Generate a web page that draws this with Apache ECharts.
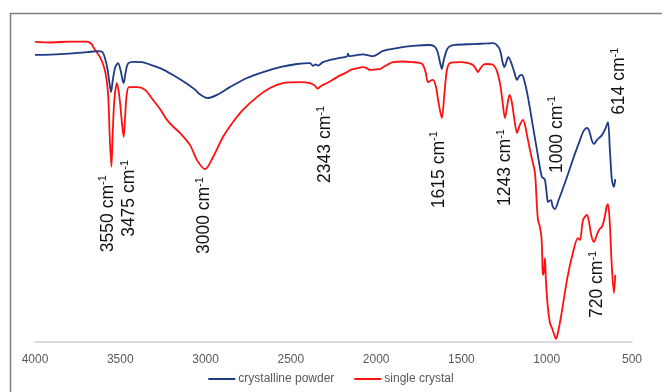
<!DOCTYPE html>
<html>
<head>
<meta charset="utf-8">
<script src="https://cdn.jsdelivr.net/npm/echarts@6/dist/echarts.min.js"></script>
<style>
  html, body { margin: 0; padding: 0; background: #ffffff; }
  #chart { width: 662px; height: 392px; }
</style>
</head>
<body>
<div id="chart"></div>
<script>
// FTIR transmittance spectra (wavenumber in cm-1, transmittance in arbitrary %)
const powderWn = [4000, 3850, 3695, 3630, 3605, 3590, 3575, 3562, 3554, 3545, 3530, 3513, 3498, 3486, 3480, 3470, 3455, 3420, 3373, 3330, 3267, 3191, 3109, 3060, 3033, 2986, 2933, 2857, 2757, 2663, 2564, 2464, 2388, 2370, 2355, 2341, 2312, 2271, 2220, 2171, 2165, 2158, 2120, 2077, 2040, 2018, 1990, 1960, 1878, 1784, 1684, 1655, 1640, 1625, 1615, 1605, 1590, 1575, 1540, 1432, 1350, 1315, 1295, 1274, 1258, 1248, 1238, 1225, 1210, 1190, 1174, 1160, 1145, 1130, 1110, 1085, 1057, 1040, 1028, 1018, 1010, 1000, 993, 985, 975, 965, 952, 930, 881, 840, 805, 785, 764, 750, 735, 723, 705, 676, 655, 641, 630, 618, 606, 598];
const powderT = [92.0, 92.3, 92.9, 93.2, 93.0, 91.0, 87.5, 82.5, 80.1, 83.5, 88.0, 89.4, 87.0, 83.8, 83.0, 86.0, 89.2, 89.8, 89.7, 89.0, 87.8, 85.6, 82.8, 80.8, 79.4, 78.2, 79.2, 81.7, 84.6, 86.5, 88.1, 89.1, 89.4, 88.5, 89.0, 88.6, 89.7, 90.4, 91.0, 91.5, 92.4, 91.6, 91.9, 92.2, 91.8, 91.6, 92.3, 93.3, 94.2, 94.9, 95.2, 94.6, 93.0, 89.5, 87.5, 90.0, 93.0, 94.5, 95.2, 95.5, 95.7, 95.8, 95.3, 93.6, 89.5, 88.1, 89.5, 91.3, 89.8, 86.5, 84.0, 85.3, 85.6, 83.5, 78.5, 70.5, 61.5, 56.0, 52.9, 52.5, 51.9, 47.5, 44.9, 45.2, 45.5, 43.5, 42.6, 45.5, 52.9, 59.5, 64.7, 67.5, 68.6, 67.5, 64.5, 63.5, 64.8, 66.3, 68.5, 70.5, 62.0, 52.0, 49.7, 52.2];

const crystalWn = [4000, 3900, 3800, 3700, 3670, 3655, 3635, 3619, 3595, 3580, 3570, 3562, 3552, 3545, 3535, 3520, 3510, 3500, 3490, 3480, 3472, 3462, 3449, 3396, 3355, 3308, 3265, 3226, 3190, 3150, 3091, 3050, 3003, 2956, 2898, 2839, 2781, 2699, 2622, 2546, 2446, 2388, 2360, 2343, 2325, 2288, 2229, 2171, 2150, 2120, 2077, 2055, 2036, 2000, 1977, 1955, 1936, 1901, 1840, 1784, 1740, 1725, 1710, 1696, 1680, 1667, 1650, 1635, 1615, 1600, 1585, 1567, 1508, 1465, 1432, 1415, 1403, 1390, 1370, 1350, 1320, 1303, 1290, 1274, 1260, 1245, 1232, 1218, 1205, 1190, 1174, 1158, 1139, 1125, 1110, 1090, 1069, 1058, 1051, 1040, 1030, 1024, 1020, 1014, 1010, 1005, 993, 981, 969, 955, 946, 935, 915, 881, 850, 817, 805, 787, 764, 752, 738, 723, 705, 690, 676, 660, 648, 641, 630, 620, 606, 598];
const crystalT = [96.2, 96.0, 96.3, 96.3, 95.6, 94.2, 92.6, 91.3, 88.1, 84.0, 78.0, 66.0, 56.2, 66.0, 77.5, 83.0, 80.5, 76.0, 70.0, 65.7, 72.0, 79.5, 81.7, 81.7, 80.8, 77.6, 74.5, 71.2, 69.0, 67.0, 63.1, 58.3, 55.4, 59.3, 65.7, 70.5, 74.4, 78.5, 81.4, 83.0, 83.3, 83.0, 82.2, 81.2, 82.0, 83.0, 84.9, 86.5, 87.2, 87.6, 88.1, 87.8, 87.2, 87.4, 87.5, 88.2, 88.8, 89.7, 89.9, 89.7, 89.4, 88.8, 86.5, 83.3, 83.8, 84.0, 82.0, 77.0, 71.8, 79.5, 87.2, 89.4, 89.7, 89.5, 88.8, 87.5, 86.5, 87.6, 88.9, 89.1, 89.0, 88.1, 86.5, 83.0, 77.5, 71.8, 75.5, 79.2, 77.0, 71.5, 67.0, 69.5, 71.2, 69.0, 64.7, 59.5, 54.2, 44.0, 39.1, 36.9, 33.0, 23.0, 21.5, 24.0, 26.9, 20.0, 10.9, 6.1, 4.5, 2.2, 1.0, 2.8, 8.5, 19.9, 27.8, 33.3, 32.7, 39.1, 40.7, 38.5, 34.0, 32.1, 34.5, 36.2, 36.9, 40.0, 43.5, 44.2, 38.0, 26.0, 15.7, 21.5];

const seriesNames = ['crystalline powder', 'single crystal'];

// band assignments written on the plot
const bandLabels = ['3550', '3475', '3000', '2343', '1615', '1243', '1000', '614', '720'];
// label layout: horizontal nudge in px, and height of the label's start in axis units
const bandLabelDx = [-4, 4.5, -1.5, 7.5, -3, 0, 10, 6.5, 2.5];
const bandLabelBase = [28.8, 33.7, 28.2, 51.0, 42.9, 43.6, 54.2, 72.8, 7.7];

const pairs = (xs, ys) => xs.map((x, i) => [x, ys[i]]);

const chart = echarts.init(document.getElementById('chart'), null, { renderer: 'canvas' });

const baseFont = '"Liberation Sans", "DejaVu Sans", sans-serif';

chart.setOption({
  animation: false,
  backgroundColor: '#ffffff',
  grid: { left: 35, right: 30, top: 30, bottom: 50, containLabel: false },
  xAxis: {
    type: 'value',
    min: 500,
    max: 4000,
    interval: 500,
    inverse: true,
    axisLine: { show: true, lineStyle: { color: '#d0d0d0', width: 1.5 } },
    axisTick: { show: false },
    splitLine: { show: false },
    axisLabel: {
      color: '#595959', fontSize: 12, fontFamily: baseFont, margin: 12,
      formatter: (v) => String(v)
    }
  },
  yAxis: {
    type: 'value',
    min: 0,
    max: 100,
    show: false,
    splitLine: { show: false }
  },
  legend: {
    bottom: 2,
    left: 'center',
    icon: 'rect',
    itemWidth: 27,
    itemHeight: 2,
    itemGap: 20,
    textStyle: { color: '#595959', fontSize: 12, fontFamily: baseFont, padding: [0, 0, 0, -2] },
    data: seriesNames
  },
  series: [
    {
      name: seriesNames[0],
      type: 'line',
      data: pairs(powderWn, powderT),
      showSymbol: false,
      symbol: 'none',
      smooth: 0.3,
      lineStyle: { color: '#1f3a84', width: 1.8 },
      itemStyle: { color: '#1f3a84' },
      z: 3
    },
    {
      name: seriesNames[1],
      type: 'line',
      data: pairs(crystalWn, crystalT),
      showSymbol: false,
      symbol: 'none',
      smooth: 0.3,
      lineStyle: { color: '#ff1010', width: 1.8 },
      itemStyle: { color: '#ff1010' },
      z: 2
    }
  ]
});

// outer frame plus rotated band labels placed through the axis scales
const graphics = [{
  type: 'rect',
  shape: { x: 10.5, y: 13.5, width: 700, height: 420 },
  style: { fill: null, stroke: '#7f7f7f', lineWidth: 1.5 },
  silent: true,
  z: 0
}];

bandLabels.forEach((w, i) => {
  const p = chart.convertToPixel({ xAxisIndex: 0, yAxisIndex: 0 }, [Number(w), bandLabelBase[i]]);
  graphics.push({
    type: 'text',
    x: p[0] + bandLabelDx[i],
    y: p[1],
    rotation: Math.PI / 2,
    silent: true,
    z: 10,
    style: {
      text: w + ' cm{s|-1}',
      fill: '#111111',
      fontSize: 17.5,
      fontFamily: baseFont,
      align: 'left',
      verticalAlign: 'middle',
      rich: {
        s: { fontSize: 11, fontFamily: baseFont, fill: '#111111', verticalAlign: 'top', lineHeight: 20 }
      }
    }
  });
});

chart.setOption({ graphic: graphics });
</script>
</body>
</html>
